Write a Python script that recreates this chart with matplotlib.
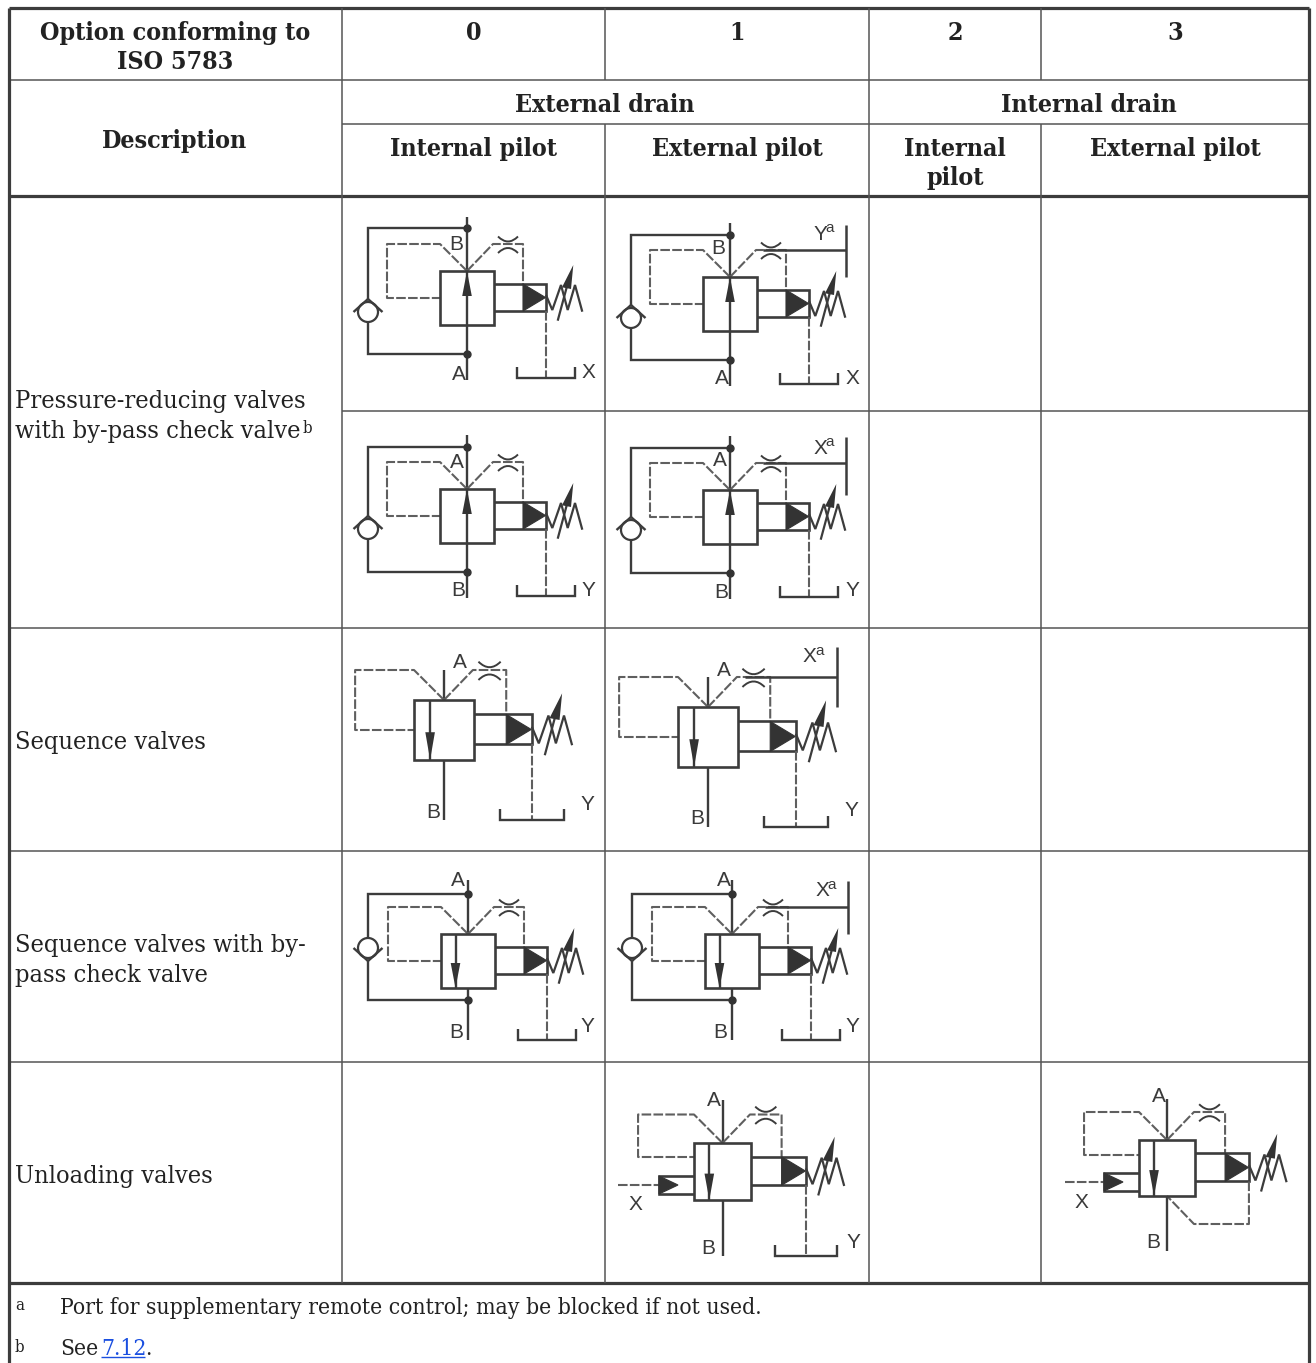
import matplotlib
matplotlib.use("Agg")
import matplotlib.pyplot as plt
from matplotlib.path import Path
from matplotlib.patches import PathPatch, Circle, Polygon

W, H = 1316, 1363
SERIF = "DejaVu Serif"
STRETCH = "condensed"
SANS = "Liberation Sans"
DARK = "#333333"
LINE = "#3c3c3c"
DASH = "#5f5f5f"
GRID = "#555555"
TEXT = "#222222"

# table text
option_labels = ["0", "1", "2", "3"]
drain_labels = ["External drain", "Internal drain"]
pilot_labels = ["Internal pilot", "External pilot", "External pilot"]
row_labels = ["Pressure-reducing valves", "with by-pass check valve", "Sequence valves",
              "Sequence valves with by-", "pass check valve", "Unloading valves"]
row_base = [408, 438, 749, 952, 982, 1183]
note_a = "Port for supplementary remote control; may be blocked if not used."

# table grid, px
col_x = [9, 342, 605, 869, 1041, 1309]
row_y = [8, 80, 124, 196, 411, 628, 851, 1062, 1283]

# valve symbols: box x, box y, box size, stem top, stem bottom, ...
symbols = [
    dict(x=440, y=271, size=54, top=217, bot=380, up=True, bypass=(368, 228, 354, 312, 1), tank=378),
    dict(x=703, y=277, size=54, top=223, bot=386, up=True, bypass=(631, 235, 360, 318, 1), tank=384, supply=(846, 225, 277)),
    dict(x=440, y=489, size=54, top=435, bot=598, up=True, bypass=(368, 447, 572, 529, 1), tank=596),
    dict(x=703, y=490, size=54, top=436, bot=599, up=True, bypass=(631, 448, 573, 530, 1), tank=597, supply=(846, 437, 495)),
    dict(x=414, y=700, size=60, top=670, bot=820, tank=820),
    dict(x=678, y=707, size=60, top=677, bot=827, tank=827, supply=(837, 647, 707)),
    dict(x=441, y=934, size=54, top=880, bot=1040, bypass=(368, 894, 1000, 948, -1), tank=1040),
    dict(x=705, y=934, size=54, top=880, bot=1040, bypass=(632, 894, 1000, 948, -1), tank=1040, supply=(848, 881, 934)),
    dict(x=694, y=1143, size=57, top=1100, bot=1256, tank=1256, remote=(618, 659, 1185), left_y=1157),
    dict(x=1139, y=1140, size=56, top=1099, bot=1251, remote=(1065, 1104, 1182), left_y=1155, internal=True),
]

# port letters on the symbols
port_text = ["B", "A", "X", "B", "A", "X", "Y", "A", "B", "Y", "X", "A", "B", "Y",
             "A", "B", "Y", "X", "A", "B", "Y", "A", "B", "Y", "X", "A", "B", "Y",
             "A", "B", "X", "Y", "A", "B", "X"]
port_x = [456, 459, 588, 718, 722, 852, 820, 457, 458, 588, 820, 720, 721, 852,
          460, 433, 587, 809, 724, 697, 851, 458, 456, 587, 822, 724, 720, 852,
          714, 708, 635, 853, 1159, 1153, 1081]
port_y = [243, 373, 371, 247, 378, 378, 233, 461, 590, 589, 447, 460, 591, 590,
          662, 811, 804, 656, 669, 817, 810, 879, 1032, 1025, 890, 879, 1032, 1025,
          1100, 1247, 1204, 1241, 1096, 1242, 1201]
sup_x = [830, 830, 820, 832]
sup_y = [228, 442, 651, 885]


def draw(ax, xs, ys, dashed=False, lw=1.7, color=None):
    c = color or (DASH if dashed else LINE)
    ln, = ax.plot(xs, ys, color=c, lw=lw, solid_capstyle="butt", solid_joinstyle="miter")
    if dashed:
        ln.set_dashes((4.6, 1.1))
    return ln


def valve(ax, x, y, size, top, bot, up=False, bypass=None, tank=None, supply=None,
          remote=None, left_y=None, internal=False):
    s = size / 54.0
    px = lambda u: x + u * s
    py = lambda v: y + v * s
    stem = px(27)

    draw(ax, [stem, stem], [top, y])
    draw(ax, [stem, stem], [y + size, bot])
    # main box
    ax.add_patch(Polygon([(x, y), (x + size, y), (x + size, y + size), (x, y + size)], closed=True,
                         fill=False, ec=LINE, lw=1.9, joinstyle="miter", zorder=3))
    # flow arrow
    if up:
        draw(ax, [stem, stem], [y, y + size])
        ax.add_patch(Polygon([(stem, y), (stem - 4.8, py(25)), (stem + 4.8, py(25))], fc=DARK, ec="none", zorder=4))
    else:
        ax_x = px(14.5)
        draw(ax, [ax_x, ax_x], [y, y + size])
        ax.add_patch(Polygon([(ax_x, y + size), (ax_x - 4.8, py(29)), (ax_x + 4.8, py(29))], fc=DARK, ec="none", zorder=4))

    # pilot lines
    ly = left_y if left_y else py(27)
    draw(ax, [stem, x, px(-53), px(-53), x], [y, py(-27), py(-27), ly, ly], dashed=True, lw=1.5)
    draw(ax, [stem, px(53), px(83), px(83)], [y, py(-27), py(-27), py(13)], dashed=True, lw=1.5)

    # orifice
    for v0, v1 in ((-34.5, -24.5), (-18, -28)):
        p = Path([(px(58), py(v0)), (px(68), py(v1)), (px(78), py(v0))], [Path.MOVETO, Path.CURVE3, Path.CURVE3])
        ax.add_patch(PathPatch(p, fc="none", ec=LINE, lw=1.4))

    # pilot cylinder and spring
    draw(ax, [x + size, px(106), px(106), x + size], [py(13), py(13), py(40), py(40)], lw=1.9)
    ax.add_patch(Polygon([(px(83), py(13)), (px(83), py(40)), (px(105.5), py(26.5))], fc=DARK, ec=DARK, lw=0.8, zorder=4))
    draw(ax, [px(u) for u in (106, 112.3, 121, 127.7, 135, 142.3)],
         [py(v) for v in (24, 39, 14, 39, 14, 40.7)], lw=1.6)
    draw(ax, [px(117.7), px(126.7)], [py(49.7), py(16.3)], lw=1.6)
    ax.add_patch(Polygon([(px(133.3), py(-6)), (px(122), py(16.3)), (px(131), py(18))], fc=DARK, ec="none", zorder=4))

    # drain
    if internal:
        draw(ax, [px(106), px(106), px(53), stem], [py(40), py(81), py(81), y + size], dashed=True, lw=1.5)
    if tank is not None:
        draw(ax, [px(106), px(106)], [py(40), tank], dashed=True, lw=1.5)
        draw(ax, [px(106) - 29 * s, px(106) - 29 * s, px(106) + 29 * s, px(106) + 29 * s],
             [tank - 11, tank, tank, tank - 11], lw=1.7)

    # by-pass check valve
    if bypass:
        bx, d0, d1, cy, sign = bypass
        r = 10
        apex = cy - sign * 13
        if sign > 0:
            draw(ax, [stem, bx, bx], [d0, d0, apex])
            draw(ax, [bx, bx, stem], [cy + r, d1, d1])
        else:
            draw(ax, [stem, bx, bx], [d0, d0, cy - r])
            draw(ax, [bx, bx, stem], [apex, d1, d1])
        ax.add_patch(Circle((bx, cy), r, fc="none", ec=LINE, lw=1.6))
        draw(ax, [bx - 14.5, bx, bx + 14.5], [cy, apex, cy], lw=1.7)
        ax.plot([stem, stem], [d0, d1], "o", color=DARK, ms=5, zorder=5)

    # external pilot port
    if supply:
        sx, s0, s1 = supply
        draw(ax, [sx, sx], [s0, s1], lw=1.8)
        draw(ax, [px(60), sx], [py(-27), py(-27)], lw=1.8)

    # remote control
    if remote:
        d0, d1, ry = remote
        draw(ax, [d0, d1], [ry, ry], dashed=True, lw=1.5)
        draw(ax, [x, d1, d1, x], [ry - 9, ry - 9, ry + 9, ry + 9], lw=1.9)
        ax.add_patch(Polygon([(d1, ry - 9), (d1, ry + 9), (d1 + 19, ry)], fc=DARK, ec=DARK, lw=0.8, zorder=4))


fig = plt.figure(figsize=(W / 100, H / 100), dpi=100)
ax = fig.add_axes([0, 0, 1, 1])
ax.set_xlim(0, W)
ax.set_ylim(H, 0)
ax.axis("off")

# grid
thick = 2.3
thin = 1.1
x0, x1, x2, x3, x4, x5 = col_x
y0, y1, y2, y3, y4, y5, y6, y7, y8 = row_y
for yy in (y0, y3, y8):
    draw(ax, [x0, x5], [yy, yy], lw=thick)
draw(ax, [x0, x5], [y1, y1], lw=thin, color=GRID)
draw(ax, [x1, x5], [y2, y2], lw=thin, color=GRID)
draw(ax, [x1, x5], [y4, y4], lw=thin, color=GRID)
for yy in (y5, y6, y7):
    draw(ax, [x0, x5], [yy, yy], lw=thin, color=GRID)
draw(ax, [x0, x0], [y0, H], lw=thick)
draw(ax, [x5, x5], [y0, H], lw=thick)
draw(ax, [x1, x1], [y0, y8], lw=thin, color=GRID)
draw(ax, [x3, x3], [y0, y8], lw=thin, color=GRID)
for xx in (x2, x4):
    draw(ax, [xx, xx], [y0, y1], lw=thin, color=GRID)
    draw(ax, [xx, xx], [y2, y8], lw=thin, color=GRID)

# header text
hdr = dict(family=SERIF, stretch=STRETCH, fontsize=17.9, fontweight="bold", color=TEXT, ha="center", va="baseline")
ax.text(175, 40, "Option conforming to", **hdr)
ax.text(175, 69, "ISO 5783", **hdr)
for lab, cx in zip(option_labels, [473.5, 737, 955, 1175]):
    ax.text(cx, 40, lab, **hdr)
ax.text(605, 112, drain_labels[0], **hdr)
ax.text(1089, 112, drain_labels[1], **hdr)
ax.text(175, 148, "Description", **hdr)
for lab, cx in zip(pilot_labels, [473.5, 737.5, 1175.5]):
    ax.text(cx, 156, lab, **hdr)
ax.text(955, 156, "Internal", **hdr)
ax.text(955, 185, "pilot", **hdr)

# row labels
body = dict(family=SERIF, stretch=STRETCH, fontsize=18.2, color=TEXT, ha="left", va="baseline")
for lab, base in zip(row_labels, row_base):
    ax.text(15, base, lab, **body)
ax.text(303, 433, "b", family=SERIF, stretch=STRETCH, fontsize=12, color=TEXT, ha="left", va="baseline")

# symbols
for sym in symbols:
    valve(ax, **sym)

port = dict(family=SANS, fontsize=15, color="#3a3a3a", ha="center", va="center")
for t, px_, py_ in zip(port_text, port_x, port_y):
    ax.text(px_, py_ + 1, t, **port)
for px_, py_ in zip(sup_x, sup_y):
    ax.text(px_, py_, "a", family=SANS, fontsize=11, color="#3a3a3a", ha="center", va="center")

# footnotes
foot = dict(family=SERIF, stretch=STRETCH, fontsize=16.4, color=TEXT, ha="left", va="baseline")
small = dict(family=SERIF, stretch=STRETCH, fontsize=12, color=TEXT, ha="left", va="baseline")
ax.text(15, 1310, "a", **small)
ax.text(15, 1352, "b", **small)
ax.text(60, 1314, note_a, **foot)
ax.text(60, 1355, "See", **foot)
link = dict(foot, color="#1a4fe0")
ax.text(101, 1355, "7.12", **link)
draw(ax, [101, 145], [1357, 1357], lw=1.0, color="#1a4fe0")
ax.text(145, 1355, ".", **foot)

fig.savefig("out.png", dpi=100)
